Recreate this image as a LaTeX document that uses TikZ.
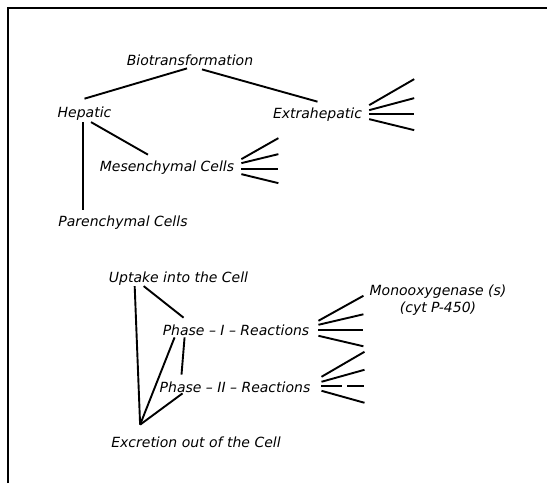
\documentclass[tikz,border=0pt]{standalone}
\usepackage{fontspec}
\setmainfont{DejaVu Sans}[ItalicFont={DejaVu Sans Oblique}]
\usetikzlibrary{calc}

\begin{document}
\begin{tikzpicture}[
  x=1pt, y=-1pt,
  lbl/.style={font=\fontsize{14}{17}\selectfont\itshape, inner sep=0pt, anchor=base},
  link/.style={line width=1.9pt},
  ray/.style={line width=1.9pt},
  frame/.style={line width=1.4pt}
]
\useasboundingbox (0,0) rectangle (547,483);
\draw[frame] (8,483) -- (8,8) -- (547,8);

% upper tree
\node[lbl] (bio) at (190,65) {Biotransformation};
\node[lbl] (hep) at (84.5,117) {Hepatic};
\node[lbl] (extra) at (317.5,118) {Extrahepatic};
\node[lbl] (meso) at (167,171) {Mesenchymal Cells};
\node[lbl] (paren) at (123,226) {Parenchymal Cells};

\draw[link] ([shift={(-3pt,-3pt)}]bio.south) -- ([yshift=7.5pt]hep.north);
\draw[link] ([shift={(12pt,-4pt)}]bio.south) -- ([yshift=5.5pt]extra.north);
\draw[link, shorten >=5pt] ([shift={(-1.5pt,-2pt)}]hep.south) -- ([xshift=-1.5pt]hep.south |- paren.north);
\draw[link] ([shift={(6.5pt,-2pt)}]hep.south) -- ([shift={(-19pt,5.5pt)}]meso.north);

\foreach \a/\b in {9pt/26pt, 4pt/12pt, 0pt/0pt, -5pt/-11pt}
  \draw[ray] ([shift={(7pt,\a)}]extra.east) -- ++(45pt,\b);
\foreach \a/\b in {8pt/21pt, 4pt/9pt, -2pt/0pt, -7pt/-9pt}
  \draw[ray] ([shift={(7pt,\a)}]meso.east) -- ++(37pt,\b);

% lower scheme
\node[lbl] (uptake) at (178.5,282) {Uptake into the Cell};
\node[lbl] (ph1) at (236,335) {Phase – I – Reactions};
\node[lbl] (ph2) at (235,392) {Phase – II – Reactions};
\node[lbl] (excr) at (196,447) {Excretion out of the Cell};
\node[lbl, anchor=center, align=center] (mono) at (438,300) {Monooxygenase (s)\\(cyt P-450)};
\coordinate (junc) at ([shift={(29pt,11.5pt)}]excr.north west);

\draw[link] ([shift={(26pt,-1pt)}]uptake.south west) -- (junc);
\draw[link] ([shift={(35pt,-1pt)}]uptake.south west) -- ([shift={(21pt,6.5pt)}]ph1.north west);
\draw[link] ([shift={(22pt,-2pt)}]ph1.south west) -- ([shift={(22pt,6.5pt)}]ph2.north west);
\draw[link] ([shift={(12pt,-2pt)}]ph1.south west) -- (junc);
\draw[link] ([shift={(23pt,-1pt)}]ph2.south west) -- (junc);

\foreach \a/\b in {9pt/25pt, 5pt/10.5pt, 0pt/0pt, -6pt/-10.5pt}
  \draw[ray] ([shift={(9pt,\a)}]ph1.east) -- ++(45pt,\b);
\foreach \a/\b in {10pt/25pt, 5pt/12pt, -4pt/-12pt}
  \draw[ray] ([shift={(11pt,\a)}]ph2.east) -- ++(43pt,\b);
\draw[ray, dash pattern=on 21pt off 5pt] ([shift={(11pt,1pt)}]ph2.east) -- ++(43pt,0pt);

\end{tikzpicture}
\end{document}
